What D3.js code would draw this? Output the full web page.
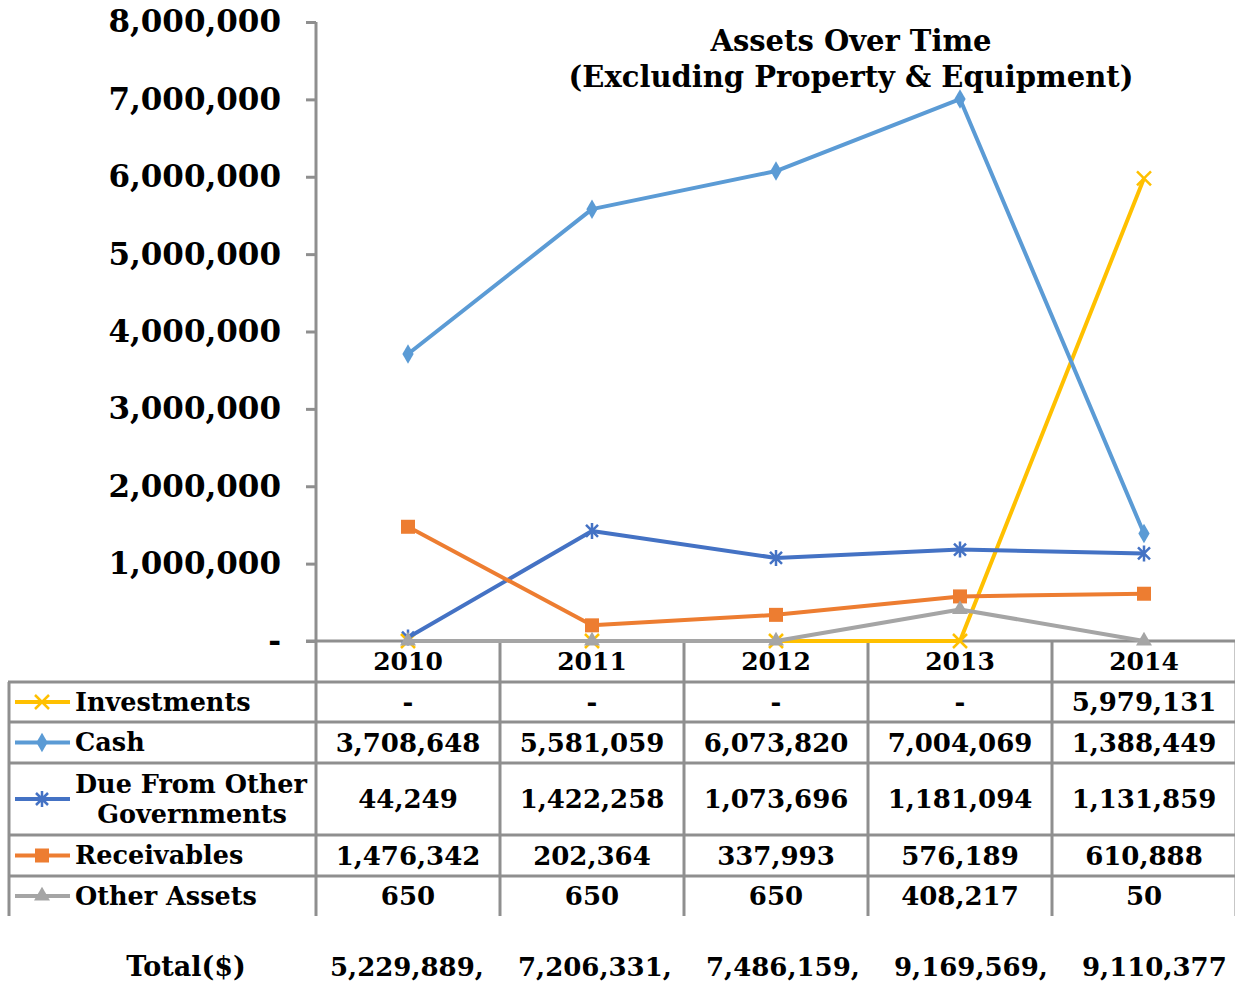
<!DOCTYPE html>
<html>
<head>
<meta charset="utf-8">
<script src="https://cdn.jsdelivr.net/npm/d3@7"></script>
<style>
    body { margin: 0; background: #fff; }
    svg { display: block; font-family: "DejaVu Serif", serif; font-weight: bold; }
</style>
</head>
<body>
<div id="chart"></div>
<script>
const years = ['2010', '2011', '2012', '2013', '2014'];
const seriesNames = ['Investments', 'Cash', 'Due From Other Governments', 'Receivables', 'Other Assets'];
const investments = [0, 0, 0, 0, 5979131];
const cash = [3708648, 5581059, 6073820, 7004069, 1388449];
const dueFromGov = [44249, 1422258, 1073696, 1181094, 1131859];
const receivables = [1476342, 202364, 337993, 576189, 610888];
const otherAssets = [650, 650, 650, 408217, 50];
const totals = ['5,229,889,', '7,206,331,', '7,486,159,', '9,169,569,', '9,110,377'];
const yTicks = [0, 1000000, 2000000, 3000000, 4000000, 5000000, 6000000, 7000000, 8000000];
const titleLines = ['Assets Over Time', '(Excluding Property & Equipment)'];

const COLORS = ['#FFC000', '#5B9BD5', '#4472C4', '#ED7D31', '#A5A5A5'];
const MARKERS = ['x', 'diamond', 'asterisk', 'square', 'triangle'];
const GRID = '#8f8f8f';

const series = [investments, cash, dueFromGov, receivables, otherAssets].map((values, i) => ({
    name: seriesNames[i],
    values,
    color: COLORS[i],
    marker: MARKERS[i]
}));

const W = 1235, H = 985;
const plot = { left: 316, right: 1236, top: 22, bottom: 641 };
// table row boundaries (header row sits between plot.bottom and first value)
const rowEdges = [641, 682, 722, 763, 835, 876, 916];

const svg = d3.select('#chart').append('svg')
    .attr('width', W).attr('height', H);

const x = d3.scaleBand().domain(years).range([plot.left, plot.right]);
const y = d3.scaleLinear().domain([0, 8000000]).range([plot.bottom, plot.top]);
// totals row below the table is not aligned to the columns, it runs on its own spacing
const xTotal = d3.scalePoint().domain(years).range([330, 1082]);

function drawMarker(g, type, color) {
    if (type === 'diamond') {
        g.append('path').attr('d', d3.symbol(d3.symbolDiamond, 110)()).attr('fill', color);
    } else if (type === 'square') {
        g.append('rect').attr('x', -7).attr('y', -7).attr('width', 14).attr('height', 14).attr('fill', color);
    } else if (type === 'triangle') {
        g.append('path').attr('d', d3.symbol(d3.symbolTriangle, 110)()).attr('fill', color);
    } else if (type === 'x') {
        g.append('path').attr('d', 'M-7,-7L7,7M-7,7L7,-7')
            .attr('stroke', color).attr('stroke-width', 2.5).attr('fill', 'none');
    } else if (type === 'asterisk') {
        g.append('path').attr('d', 'M-6,-6L6,6M-6,6L6,-6M0,-8L0,8')
            .attr('stroke', color).attr('stroke-width', 2.5).attr('fill', 'none');
    }
}

// Y axis
const yAxis = d3.axisLeft(y)
    .tickValues(yTicks)
    .tickSize(10)
    .tickPadding(25)
    .tickFormat(d => d === 0 ? '-' : d3.format(',')(d));

const yAxisG = svg.append('g')
    .attr('transform', `translate(${plot.left},0)`)
    .call(yAxis);
yAxisG.select('.domain').remove();
yAxisG.selectAll('.tick line').attr('stroke', GRID).attr('stroke-width', 3);
yAxisG.selectAll('.tick text')
    .attr('fill', '#000')
    .style('font-size', '31px')
    .style('font-family', '"DejaVu Serif", serif')
    .style('font-weight', 'bold');

// Axis line / table frame
const frame = svg.append('g').attr('stroke', GRID).attr('stroke-width', 3);
frame.append('line')
    .attr('x1', plot.left).attr('x2', plot.left)
    .attr('y1', plot.top).attr('y2', rowEdges[rowEdges.length - 1]);
frame.append('line')
    .attr('x1', plot.left - 10).attr('x2', plot.right)
    .attr('y1', plot.bottom).attr('y2', plot.bottom);
rowEdges.slice(1, -1).forEach(ry => {
    frame.append('line')
        .attr('x1', 8).attr('x2', plot.right)
        .attr('y1', ry).attr('y2', ry);
});
frame.append('line')
    .attr('x1', 9).attr('x2', 9)
    .attr('y1', rowEdges[1]).attr('y2', rowEdges[rowEdges.length - 1]);
years.forEach(yr => {
    const xr = x(yr) + x.bandwidth();
    frame.append('line')
        .attr('x1', xr).attr('x2', xr)
        .attr('y1', plot.bottom).attr('y2', rowEdges[rowEdges.length - 1]);
});

// Lines
const line = d3.line()
    .x((d, i) => x(years[i]) + x.bandwidth() / 2)
    .y(d => y(d));

const linesG = svg.append('g');
series.forEach(s => {
    linesG.append('path')
        .datum(s.values)
        .attr('d', line)
        .attr('fill', 'none')
        .attr('stroke', s.color)
        .attr('stroke-width', 4)
        .attr('stroke-linejoin', 'round');
    s.values.forEach((v, i) => {
        const m = linesG.append('g')
            .attr('transform', `translate(${x(years[i]) + x.bandwidth() / 2},${y(v)})`);
        drawMarker(m, s.marker, s.color);
    });
});

// Title
svg.append('text')
    .attr('x', 851).attr('y', 51)
    .attr('text-anchor', 'middle')
    .style('font-size', '29px')
    .selectAll('tspan')
    .data(titleLines)
    .join('tspan')
    .attr('x', 851)
    .attr('dy', (d, i) => i === 0 ? 0 : 36)
    .text(d => d);

// Year header
const yearG = svg.append('g').style('font-size', '25px');
years.forEach(yr => {
    yearG.append('text')
        .attr('x', x(yr) + x.bandwidth() / 2)
        .attr('y', (rowEdges[0] + rowEdges[1]) / 2)
        .attr('dy', '0.35em')
        .attr('text-anchor', 'middle')
        .text(yr);
});

// Table rows
const rowsG = svg.append('g');
series.forEach((s, r) => {
    const cy = (rowEdges[r + 1] + rowEdges[r + 2]) / 2;
    // legend key
    rowsG.append('line')
        .attr('x1', 15).attr('x2', 70)
        .attr('y1', cy).attr('y2', cy)
        .attr('stroke', s.color).attr('stroke-width', 4);
    drawMarker(rowsG.append('g').attr('transform', `translate(42,${cy})`), s.marker, s.color);

    const label = rowsG.append('text')
        .attr('y', cy)
        .style('font-size', '25.5px');
    if (r === 2) {
        label.append('tspan').attr('x', 75).attr('dy', '-0.25em').text('Due From Other');
        label.append('tspan').attr('x', 192).attr('dy', '1.2em').attr('text-anchor', 'middle').text('Governments');
    } else {
        label.attr('x', 75).attr('dy', '0.35em').text(s.name);
    }

    s.values.forEach((v, i) => {
        rowsG.append('text')
            .attr('x', x(years[i]) + x.bandwidth() / 2)
            .attr('y', cy)
            .attr('dy', '0.35em')
            .attr('text-anchor', 'middle')
            .style('font-size', '26px')
            .text(v === 0 ? '-' : d3.format(',')(v));
    });
});

// Totals
const totalY = 967;
svg.append('text')
    .attr('x', 186).attr('y', totalY)
    .attr('dy', '0.35em')
    .attr('text-anchor', 'middle')
    .style('font-size', '27px')
    .text('Total($)');
totals.forEach((t, i) => {
    svg.append('text')
        .attr('x', xTotal(years[i]))
        .attr('y', totalY)
        .attr('dy', '0.35em')
        .style('font-size', '26px')
        .text(t);
});
</script>
</body>
</html>
